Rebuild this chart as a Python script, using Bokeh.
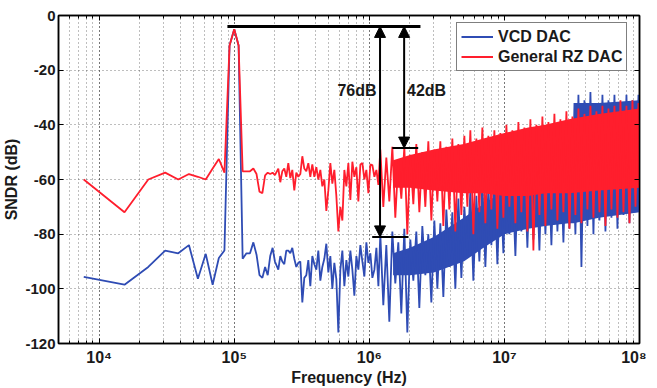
from bokeh.plotting import figure
from bokeh.models import (Range1d, LogAxis, LinearAxis, Legend, LegendItem, Arrow,
                          NormalHead, Label, FixedTicker, LogTicker)
from bokeh.embed import file_html
from bokeh.resources import INLINE

# ---------------- data ----------------
# shared frequency grid, kHz
freq_khz = [7.69, 15.4, 23.1, 30.8, 38.5, 46.2, 53.8, 61.5, 69.2, 76.9, 84.6, 92.3, 100,
            107.7, 115.4, 123.1, 130.8, 138.5, 146.2, 153.8, 161.5, 169.2, 176.9, 184.6, 192.3, 200,
            211.9, 219.2, 226.8, 234.7, 242.8, 251.3, 260.0, 269.0, 278.3, 288.0, 298.0, 308.4,
            319.1, 330.1, 341.6, 353.5, 365.7, 378.4, 391.6, 405.2, 419.2, 433.8, 448.8, 464.4,
            480.5, 497.2, 514.5, 532.3, 550.8, 569.9, 589.7, 610.2, 631.4, 653.3, 676.0, 699.4,
            723.7, 748.8, 774.8, 801.7, 829.5, 858.3, 888.1, 918.9, 950.8, 983.8, 1018, 1053,
            1090, 1128, 1167,
            1206, 1269, 1336, 1406, 1480, 1557, 1639, 1725, 1816, 1911, 2011, 2117, 2228, 2345,
            2468, 2598, 2734, 2878, 3029, 3188, 3355, 3531, 3717, 3912, 4117, 4333, 4561, 4800,
            5052, 5317, 5596, 5890, 6199, 6525, 6867, 7228, 7607, 8006, 8427, 8869, 9335, 9825,
            10341, 10884, 11455, 12057, 12690, 13356, 14057, 14795, 15572, 16389, 17250, 18155,
            19108, 20111, 21167, 22278, 23448, 24679, 25974, 27338, 28773, 30284, 31874, 33547,
            35308, 37162, 39113, 41166, 43327, 45602, 47996, 50516, 53168, 55959, 58897, 61989,
            65243, 68669, 72274, 76068, 80062, 84265, 88689, 93345, 98246]

vcd_db = [-95.6, -98.5, -92, -86, -87, -84, -96.3, -87.2, -98.5, -88.7, -86, -11, -5,
          -11, -89, -87, -87, -83, -87.5, -95, -96, -92, -95, -88, -85, -90,
          -93, -88, -90, -91, -86, -86, -87, -85, -89, -92, -90.5, -90,
          -105, -96, -95, -89.5, -99, -88, -91, -93, -86, -97, -92, -89,
          -83.5, -94, -88, -100, -90.5, -96.5, -116, -93, -86, -99, -89.5, -95.5,
          -86, -93, -102.5, -88, -93, -84, -90, -95.5, -83, -90.5, -87, -96,
          -93, -85, -99,
          -80, -106, -84, -112, -79, -98, -83, -109, -78, -116, -82, -97, -79, -107,
          -77, -95, -80, -105, -75, -100, -76, -103, -71, -92, -72, -100, -67, -96,
          -70, -88, -64, -97, -66, -90, -61, -92, -63, -84, -58, -91, -60, -87,
          -55, -80, -58, -88, -52, -79, -55, -85, -50, -82, -53, -86,
          -48, -80, -51, -84, -46, -79, -49, -83, -45, -78, -47, -80,
          -29, -92, -31, -77, -28, -80, -32, -75, -29, -79, -31, -74,
          -29, -78, -32, -73, -29, -76, -31, -72, -29]

rz_db = [-60, -72, -60, -57.5, -60, -58, -59, -60, -56, -52.5, -57.5, -11, -5,
         -11, -57, -57, -57, -56, -58, -64.5, -65, -58.5, -57.5, -58, -57.5, -58.4,
         -56, -61, -57, -56, -59, -54, -59.5, -56.5, -64, -57.5, -59, -58,
         -51.5, -56, -57, -54, -59, -54.5, -59, -55.5, -60, -56.5, -62.5, -60,
         -71.5, -64, -54, -61.5, -56.5, -66, -79, -70, -75, -56.5, -62.5, -54,
         -67.5, -53.5, -59, -55.5, -68, -54.5, -54, -60, -56.5, -65, -54.5, -54.7,
         -59, -56.5, -62,
         -49, -70, -52, -68, -48, -74, -53, -67, -48, -80, -51, -69, -47, -72,
         -50, -70, -46, -75, -49, -68, -46, -77, -48, -71, -45, -79, -47, -73,
         -44, -70, -42, -80, -45, -72, -41, -76, -44, -71, -42, -78, -43, -74,
         -40, -70, -42, -76, -39, -72, -41, -79, -38, -86, -40, -73,
         -37, -77, -39, -71, -36, -75, -38, -72, -35, -78, -37, -73,
         -34, -76, -36, -71, -33, -74, -35, -72, -33, -77, -34, -71,
         -33, -74, -31, -72, -33, -76, -31, -70, -32]

# dense-noise core envelopes (kHz, top dB, bottom dB)
vcd_core_khz = [1500, 2000, 3000, 5000, 7000, 10000, 15000, 20000, 30000, 32000, 32500, 50000, 100000]
vcd_core_top = [-87, -85, -81, -74, -69, -64, -57, -53, -49, -48, -32, -32, -31]
vcd_core_bot = [-95, -95, -94, -90, -85, -80, -78, -77, -76, -76, -76, -74, -72]

rz_core_khz = [1500, 2000, 3000, 5000, 7000, 10000, 15000, 20000, 30000, 50000, 100000]
rz_core_top = [-53, -51, -49, -47, -45, -43, -41, -40, -38, -36, -34]
rz_core_bot = [-63, -63, -64, -65, -65, -66, -66, -65, -65, -64, -63]

y_ticks = [-120, -100, -80, -60, -40, -20, 0]
y_tick_labels = {-120: "-120", -100: "-100", -80: "-80", -60: "-60", -40: "-40", -20: "-20", 0: "0"}
x_tick_labels = {10**4: "10\u2074", 10**5: "10\u2075", 10**6: "10\u2076",
                 10**7: "10\u2077", 10**8: "10\u2078"}

# annotation values
ref_level = -4
drop_76 = -81
drop_42 = -48.5

BLUE = "#2f4cb4"
RED = "#ff1e2d"
FONT = "Liberation Sans"

hz = lambda arr: [v * 1e3 for v in arr]

p = figure(frame_width=581, frame_height=328, x_axis_type="log", output_backend="svg",
           toolbar_location=None, x_range=Range1d(5e3, 1e8), y_range=Range1d(-120, 0),
           min_border_left=53, min_border_right=7, min_border_top=15, min_border_bottom=29)
p.background_fill_color = "white"
p.outline_line_color = "black"
p.outline_line_width = 1.5

# series
p.varea(x=hz(vcd_core_khz), y1=vcd_core_bot, y2=vcd_core_top, fill_color=BLUE)
r_b = p.line(hz(freq_khz), vcd_db, line_color=BLUE, line_width=1.8)
p.varea(x=hz(rz_core_khz), y1=rz_core_bot, y2=rz_core_top, fill_color=RED)
r_r = p.line(hz(freq_khz), rz_db, line_color=RED, line_width=1.8)

# axes styling
for ax in (p.xaxis[0], p.yaxis[0]):
    ax.axis_line_color = "black"
    ax.axis_line_width = 1.5
    ax.major_tick_in = 5
    ax.major_tick_out = 0
    ax.minor_tick_in = 3
    ax.minor_tick_out = 0
    ax.major_label_text_font = FONT
    ax.major_label_text_font_style = "bold"
    ax.major_label_text_font_size = "15px"
    ax.major_label_text_color = "#1a1a1a"
    ax.axis_label_text_font = FONT
    ax.axis_label_text_font_style = "bold"
    ax.axis_label_text_font_size = "16px"
    ax.axis_label_text_color = "#1a1a1a"

p.yaxis[0].ticker = FixedTicker(ticks=y_ticks)
p.yaxis[0].major_label_overrides = y_tick_labels
p.yaxis[0].minor_tick_in = 0
p.yaxis[0].axis_label = "SNDR (dB)"
p.yaxis[0].axis_label_standoff = 2
p.yaxis[0].major_label_standoff = 3
p.xaxis[0].ticker = LogTicker(desired_num_ticks=6, num_minor_ticks=10)
p.xaxis[0].major_label_overrides = x_tick_labels
p.xaxis[0].major_label_text_font_size = "16px"
p.xaxis[0].axis_label = "Frequency (Hz)"
p.xaxis[0].axis_label_standoff = 0
p.xaxis[0].major_label_standoff = 5

# mirror ticks on top and right (no labels)
top = LogAxis(ticker=LogTicker(desired_num_ticks=6, num_minor_ticks=10),
              major_label_text_alpha=0, major_label_text_font_size="1px",
              major_label_standoff=0, major_tick_in=5, major_tick_out=0,
              minor_tick_in=3, minor_tick_out=0, axis_line_width=1.5)
right = LinearAxis(ticker=FixedTicker(ticks=y_ticks), major_label_text_alpha=0,
                   major_label_text_font_size="1px", major_label_standoff=0,
                   major_tick_in=5, major_tick_out=0, minor_tick_in=0, minor_tick_out=0,
                   axis_line_width=1.5)
p.add_layout(top, "above")
p.add_layout(right, "right")

# grid
for g in (p.xgrid, p.ygrid):
    g.grid_line_color = "#444444"
    g.grid_line_dash = "1 3"
    g.grid_line_alpha = 0.7
p.xgrid.minor_grid_line_color = "#444444"
p.xgrid.minor_grid_line_dash = "1 3"
p.xgrid.minor_grid_line_alpha = 0.7
p.ygrid.ticker = FixedTicker(ticks=y_ticks)

# annotations
p.line([8.9e4, 2.39e6], [ref_level, ref_level], line_color="black", line_width=3)
p.line([1.05e6, 1.95e6], [drop_76, drop_76], line_color="black", line_width=2)
p.line([1.48e6, 2.3e6], [drop_42, drop_42], line_color="black", line_width=2)
for xa, yb in ((1.2e6, drop_76), (1.81e6, drop_42)):
    p.add_layout(Arrow(x_start=xa, y_start=yb, x_end=xa, y_end=ref_level, line_width=2,
                       line_color="black",
                       start=NormalHead(size=11, fill_color="black", line_color="black"),
                       end=NormalHead(size=11, fill_color="black", line_color="black")))
p.add_layout(Label(x=1.13e6, y=-27.4, text="76dB", text_align="right", text_baseline="middle",
                   text_font=FONT, text_font_style="bold", text_font_size="16px",
                   text_color="#1a1a1a"))
p.add_layout(Label(x=1.9e6, y=-27.4, text="42dB", text_align="left", text_baseline="middle",
                   text_font=FONT, text_font_style="bold", text_font_size="16px",
                   text_color="#1a1a1a"))

legend = Legend(items=[LegendItem(label="VCD DAC", renderers=[r_b]),
                       LegendItem(label="General RZ DAC", renderers=[r_r])],
                location=(398, 272), label_text_font=FONT, label_text_font_style="bold",
                label_text_font_size="16px", label_text_color="#1a1a1a",
                border_line_color="black", border_line_width=1.2, glyph_width=32,
                label_height=19, glyph_height=19, padding=4, spacing=1, margin=0,
                background_fill_alpha=1)
p.add_layout(legend, "center")

open("out.html", "w").write(file_html(p, INLINE))
